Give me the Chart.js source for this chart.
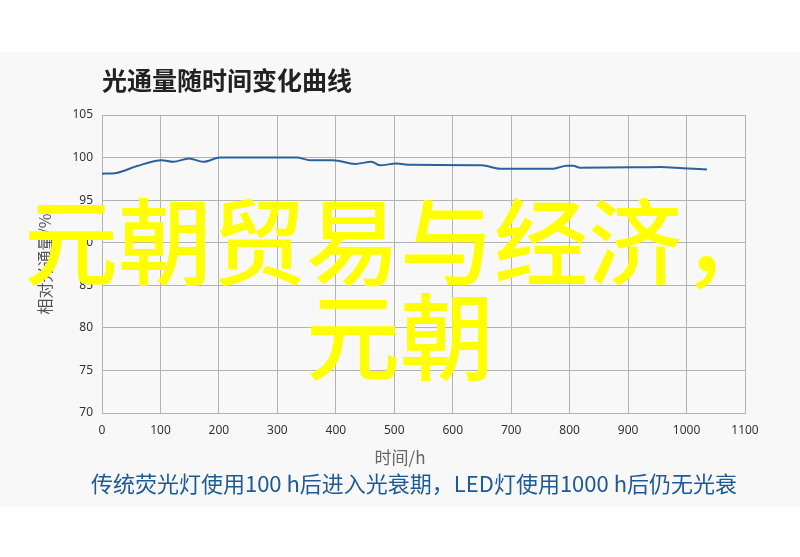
<!DOCTYPE html>
<html lang="zh">
<head>
    <meta charset="UTF-8">
    <title>光通量随时间变化曲线</title>
    <script src="https://cdn.jsdelivr.net/npm/chart.js"></script>
    <style>
        body {
            margin: 0;
            width: 800px;
            height: 557px;
            background: #ffffff;
            position: relative;
            overflow: hidden;
            font-family: "Noto Sans CJK SC", "Noto Sans", sans-serif;
        }
        .panel {
            position: absolute;
            left: 0;
            top: 52px;
            width: 800px;
            height: 455px;
            background: #f8f8f8;
        }
        .panel canvas {
            display: block;
        }
        .x-title {
            position: absolute;
            left: 0;
            width: 800px;
            top: 444px;
            text-align: center;
            font-size: 17px;
            line-height: 26px;
            color: #666666;
        }
        .caption {
            position: absolute;
            left: 28px;
            width: 772px;
            top: 467px;
            text-align: center;
            font-size: 22px;
            line-height: 30px;
            color: #1d5a96;
        }
        .overlay {
            position: absolute;
            left: 0;
            width: 800px;
            top: 190px;
            text-align: center;
            font-size: 94px;
            font-weight: 500;
            line-height: 95px;
            color: #ffff00;
        }
    </style>
</head>
<body>
    <div class="panel">
        <canvas id="flux-chart" width="800" height="455"></canvas>
    </div>
    <div class="x-title">时间/h</div>
    <div class="caption">传统荧光灯使用100 h后进入光衰期，LED灯使用1000 h后仍无光衰</div>
    <div class="overlay">元朝贸易与经济，<br>元朝</div>

    <script>
        // 读图得到的数据
        const hours = [0, 25, 60, 102, 122, 149, 173, 202, 333, 356, 395, 433, 461, 476, 504, 527, 650, 681, 772, 795, 806, 818, 909, 955, 994, 1035];
        const flux = [98.1, 98.2, 99.0, 99.7, 99.5, 99.9, 99.5, 100, 100, 99.7, 99.7, 99.25, 99.5, 99.1, 99.3, 99.15, 99.1, 98.7, 98.7, 99.05, 99.05, 98.8, 98.85, 98.9, 98.75, 98.6];

        const chartTitle = '光通量随时间变化曲线';
        const yTitle = '相对光通量/%';

        const points = hours.map((h, i) => ({ x: h, y: flux[i] }));

        const gridColor = '#b3b3b3';
        const tickFont = { family: "'Noto Sans', 'Noto Sans CJK SC'", size: 12 };

        const ctx = document.getElementById('flux-chart').getContext('2d');

        const fluxChart = new Chart(ctx, {
            type: 'line',
            data: {
                datasets: [{
                    label: '光通量',
                    data: points,
                    borderColor: '#2d6199',
                    borderWidth: 2,
                    pointRadius: 0,
                    fill: false,
                    cubicInterpolationMode: 'monotone'
                }]
            },
            options: {
                responsive: false,
                animation: false,
                layout: {
                    padding: { left: 35, right: 55, top: 0, bottom: 64 }
                },
                plugins: {
                    legend: { display: false },
                    tooltip: { enabled: false },
                    title: {
                        display: true,
                        text: chartTitle,
                        align: 'start',
                        fullSize: false,
                        color: '#222222',
                        font: { family: "'Noto Sans CJK SC'", size: 25, weight: 'bold' },
                        padding: { top: 13, bottom: 20 }
                    }
                },
                scales: {
                    x: {
                        type: 'linear',
                        min: 0,
                        max: 1100,
                        ticks: {
                            stepSize: 100,
                            color: '#333333',
                            font: tickFont,
                            padding: 10,
                            maxRotation: 0,
                            callback: (v) => String(v)
                        },
                        grid: { color: gridColor, drawTicks: false },
                        border: { color: gridColor },
                        afterFit: function(scale) { scale.height = 30; }
                    },
                    y: {
                        min: 70,
                        max: 105,
                        ticks: {
                            stepSize: 5,
                            color: '#333333',
                            font: tickFont,
                            padding: 9
                        },
                        grid: { color: gridColor, drawTicks: false },
                        border: { color: gridColor },
                        title: {
                            display: true,
                            text: yTitle,
                            color: '#555555',
                            font: { family: "'Noto Sans CJK SC'", size: 16 },
                            padding: 0
                        },
                        afterFit: function(scale) { scale.width = 67; }
                    }
                }
            }
        });
    </script>
</body>
</html>
